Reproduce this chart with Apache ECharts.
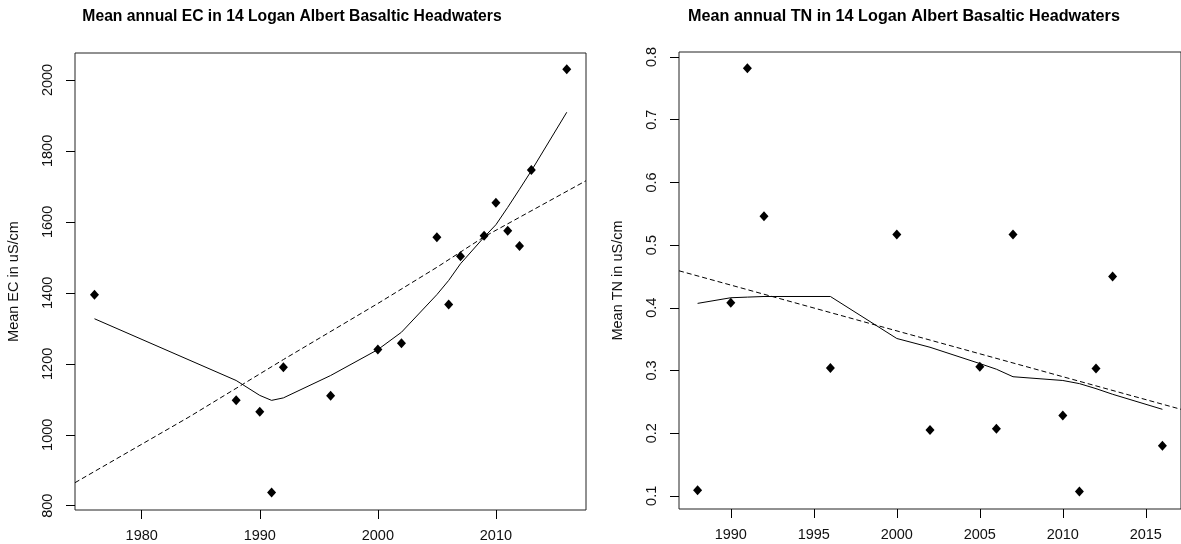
<!DOCTYPE html>
<html>
<head>
<meta charset="utf-8">
<script src="https://cdn.jsdelivr.net/npm/echarts@6/dist/echarts.min.js"></script>
<style>
  html, body { margin: 0; padding: 0; background: #fff; }
  #chart { width: 1181px; height: 544px; }
</style>
</head>
<body>
<div id="chart"></div>
<script>
// EC panel
let ecYears = [1976, 1988, 1990, 1991, 1992, 1996, 2000, 2002, 2005, 2006, 2007, 2009, 2010, 2011, 2012, 2013, 2016]
let ecValues = [1395, 1097, 1065, 837, 1190, 1110, 1240, 1258, 1557, 1367, 1503, 1561, 1654, 1575, 1532, 1746, 2030]
let ecLowess = [1327, 1153, 1111, 1097, 1104, 1167, 1240, 1289, 1395, 1435, 1482, 1557, 1592, 1641, 1692, 1744, 1909]
let ecTrendYears = [1974.35, 1984, 1992, 2000, 2005, 2009, 2017.63]
let ecTrendValues = [865, 1050, 1212, 1370, 1472, 1558, 1716]
let ecYTicks = [800, 1000, 1200, 1400, 1600, 1800, 2000]
let ecXTicks = [1980, 1990, 2000, 2010]

// TN panel
let tnYears = [1988, 1990, 1991, 1992, 1996, 2000, 2002, 2005, 2006, 2007, 2010, 2011, 2012, 2013, 2016]
let tnValues = [0.109, 0.408, 0.782, 0.546, 0.304, 0.517, 0.205, 0.306, 0.207, 0.517, 0.228, 0.107, 0.303, 0.450, 0.180]
let tnLowess = [0.407, 0.416, 0.417, 0.418, 0.418, 0.351, 0.337, 0.311, 0.302, 0.290, 0.284, 0.279, 0.271, 0.262, 0.238]
let tnTrendYears = [1986.88, 2017.12]
let tnTrendValues = [0.459, 0.238]
let tnYTicks = [0.1, 0.2, 0.3, 0.4, 0.5, 0.6, 0.7, 0.8]
let tnXTicks = [1990, 1995, 2000, 2005, 2010, 2015]

const font = 'Liberation Sans, Arial, sans-serif'
const ink = '#000'

function pairs(xs, ys) {
    return xs.map((x, i) => [x, ys[i]])
}

function xAxis(grid, min, max, ticks) {
    return {
        type: 'value', gridIndex: grid, min: min, max: max,
        splitLine: {show: false},
        axisLine: {show: false},
        axisTick: {show: true, length: 9, customValues: ticks, lineStyle: {color: ink}},
        axisLabel: {customValues: ticks, margin: 18, fontSize: 14.5, fontFamily: font, color: '#111',
                    formatter: v => String(v)}
    }
}

function yAxis(grid, min, max, ticks, name, digits) {
    return {
        type: 'value', gridIndex: grid, min: min, max: max,
        name: name, nameLocation: 'middle', nameRotate: 90, nameGap: 54,
        nameTextStyle: {fontSize: 14.5, fontFamily: font, color: '#111'},
        splitLine: {show: false},
        axisLine: {show: false},
        axisTick: {show: true, length: 9, customValues: ticks, lineStyle: {color: ink}},
        axisLabel: {customValues: ticks, rotate: 90, margin: 20, fontSize: 14.5, fontFamily: font, color: '#111',
                    formatter: v => Number(v).toFixed(digits)}
    }
}

function points(idx, xs, ys) {
    return {
        type: 'scatter', xAxisIndex: idx, yAxisIndex: idx,
        data: pairs(xs, ys), symbol: 'diamond', symbolSize: [9, 10],
        itemStyle: {color: ink, opacity: 1}, z: 5
    }
}

function curve(idx, xs, ys, dashed) {
    return {
        type: 'line', xAxisIndex: idx, yAxisIndex: idx,
        data: pairs(xs, ys), symbol: 'none', clip: true,
        lineStyle: {color: ink, width: 1, type: dashed ? [5, 3] : 'solid'}
    }
}

let myChart = echarts.init(document.getElementById('chart'))
myChart.setOption({
    animation: false,
    backgroundColor: '#fff',
    title: [
        {text: 'Mean annual EC in 14 Logan Albert Basaltic Headwaters', left: 287, top: 4, textAlign: 'center',
         textStyle: {fontSize: 15.7, fontWeight: 'bold', fontFamily: font, color: ink}},
        {text: 'Mean annual TN in 14 Logan Albert Basaltic Headwaters', left: 899, top: 4, textAlign: 'center',
         textStyle: {fontSize: 16.2, fontWeight: 'bold', fontFamily: font, color: ink}}
    ],
    grid: [
        {left: 75, top: 53, right: 595, bottom: 34, show: true, borderColor: '#222', borderWidth: 1, backgroundColor: 'transparent'},
        {left: 679, top: 52, right: -9, bottom: 35, show: true, borderColor: '#222', borderWidth: 1, backgroundColor: 'transparent'}
    ],
    xAxis: [
        xAxis(0, 1974.35, 2017.63, ecXTicks),
        xAxis(1, 1986.88, 2017.12, tnXTicks)
    ],
    yAxis: [
        yAxis(0, 788, 2076, ecYTicks, 'Mean EC in uS/cm', 0),
        yAxis(1, 0.079, 0.808, tnYTicks, 'Mean TN in uS/cm', 1)
    ],
    series: [
        points(0, ecYears, ecValues),
        curve(0, ecYears, ecLowess, false),
        curve(0, ecTrendYears, ecTrendValues, true),
        points(1, tnYears, tnValues),
        curve(1, tnYears, tnLowess, false),
        curve(1, tnTrendYears, tnTrendValues, true)
    ]
})
</script>
</body>
</html>
